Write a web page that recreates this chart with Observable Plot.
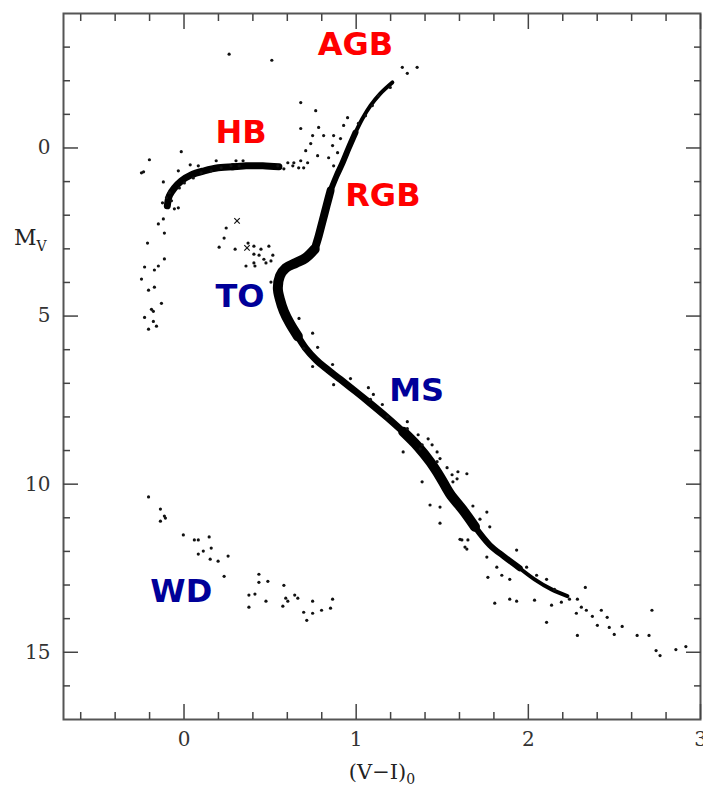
<!DOCTYPE html>
<html><head><meta charset="utf-8">
<script src="https://cdn.jsdelivr.net/npm/d3@7"></script>
<script src="https://cdn.jsdelivr.net/npm/@observablehq/plot@0.6"></script>
<style>body{margin:0;background:#fff} svg{display:block}</style>
</head><body><div id="chart"></div>
<script>
// ---- axis ticks ----
const xMajor = [0, 1, 2, 3];
const xMinor = [-0.6, -0.4, -0.2, 0.2, 0.4, 0.6, 0.8, 1.2, 1.4, 1.6, 1.8, 2.2, 2.4, 2.6, 2.8];
const yMajor = [0, 5, 10, 15];
const yMinor = [-3, -2, -1, 1, 2, 3, 4, 6, 7, 8, 9, 11, 12, 13, 14, 16];

// ---- fiducial (dense) sequences, [V-I, Mv] ----
const rgbUpper = [[1.210,-1.95],[1.140,-1.62],[1.083,-1.26],[1.036,-0.87],[0.996,-0.46]];
const rgbMid = [[0.996,-0.46],[0.955,0.02],[0.921,0.44],[0.886,0.83],[0.851,1.27]];
const rgbLower = [[0.851,1.27],[0.828,1.72],[0.805,2.17],[0.782,2.62],[0.759,3.01]];
const subgiantTO = [[0.759,3.01],[0.707,3.27],[0.649,3.42],[0.591,3.57],[0.557,3.81],[0.545,4.17],[0.557,4.50],[0.580,4.86],[0.614,5.21],[0.661,5.60]];
const msUpper = [[0.661,5.60],[0.707,5.96],[0.765,6.29],[0.834,6.59],[0.909,6.89],[0.996,7.24],[1.083,7.60],[1.181,8.02],[1.273,8.44]];
const msLower = [[1.273,8.44],[1.360,8.89],[1.429,9.33],[1.487,9.78],[1.545,10.29],[1.620,10.77],[1.690,11.27]];
const msBottom = [[1.690,11.27],[1.776,11.81],[1.863,12.17],[1.950,12.50]];
const msTail = [[1.950,12.50],[2.036,12.83],[2.135,13.13],[2.227,13.33]];
const hbBlue = [[-0.097,1.72],[-0.085,1.42],[-0.056,1.19],[-0.016,0.98],[0.042,0.80],[0.117,0.68],[0.198,0.59],[0.285,0.56]];
const hbRed = [[0.285,0.56],[0.360,0.53],[0.458,0.53],[0.551,0.56]];

// ---- individual stars ----
const brightGiants = [[0.262,-2.79],[0.510,-2.61],[1.354,-2.40],[1.268,-2.40],[1.297,-2.22],
  [1.198,-1.80],[1.129,-1.56],[1.094,-1.26],[1.054,-0.96],[1.013,-0.73]];
const agbStars = [[0.678,-1.35],[0.765,-1.11],[0.678,-0.58],[0.782,-0.61],[0.747,-0.37],[0.811,-0.37],
  [0.869,-0.37],[0.736,-0.13],[0.863,-0.07],[0.707,0.08],[0.776,0.23],[0.840,0.29],[0.638,0.44],
  [0.678,0.38],[0.718,0.44],[0.666,0.59],[0.950,-0.90],[0.927,-0.67],[0.909,-0.28],[0.892,0.14],
  [0.869,0.53],[0.695,0.59],[0.632,0.53],[0.603,0.44]];
const hbStars = [[-0.201,0.35],[-0.235,0.71],[-0.016,0.11],[-0.120,1.01],[0.036,0.50],[0.187,0.38],
  [0.302,0.38],[0.343,0.38],[-0.120,2.11],[-0.149,2.26],[0.245,2.38],
  [-0.073,1.57],[-0.085,1.33],[-0.033,1.78],[-0.027,1.19],[0.002,1.04],[0.054,0.89],[0.100,0.74],
  [0.158,0.68],[0.216,0.59],[0.273,0.53],[0.320,0.53],[0.545,0.53],[0.580,0.62],[-0.033,0.68],
  [0.083,0.53],[-0.056,1.81],[-0.102,1.48]];
const bhbStars = [[-0.247,0.74],[-0.125,1.63],[-0.114,2.53],[-0.212,2.83],[-0.114,3.30],[-0.229,3.54],
  [-0.149,3.51],[-0.172,3.63],[-0.247,3.90],[-0.206,4.23],[-0.172,4.14],[-0.131,4.62],[-0.189,4.80],
  [-0.178,4.86],[-0.229,5.04],[-0.178,5.16],[-0.160,5.30],[-0.206,5.39]];
const blueStragglers = [[0.233,2.68],[0.204,2.95],[0.297,3.01],[0.372,2.83],[0.406,2.92],[0.447,3.01],
  [0.493,2.92],[0.406,3.16],[0.436,3.19],[0.464,3.31],[0.516,3.19],[0.476,3.42],[0.505,3.36],
  [0.406,3.42],[0.360,3.51],[0.412,3.51],[0.505,3.99]];
const crossStars = [[0.308,2.17],[0.366,2.97]];
const msStars = [[0.668,5.07],[0.747,5.51],[0.695,5.96],[0.776,5.93],[0.747,6.50],[0.863,6.44],[0.967,6.86],
  [0.869,7.04],[1.071,7.13],[1.100,7.33],[1.083,7.48],[1.152,7.63],[1.181,7.99],[1.297,8.14],[1.297,8.35],
  [1.360,8.53],[1.418,8.65],[1.383,8.83],[1.441,8.83],[1.470,9.04],[1.273,9.04],[1.487,9.24],[1.528,9.51],
  [1.591,9.63],[1.643,9.69],[1.557,9.72],[1.383,9.93],[1.562,9.93],[1.372,8.95],[1.470,9.33],[1.586,9.84],
  [1.429,10.62],[1.487,10.68],[1.678,10.65],[1.759,10.83],[1.487,11.16],[1.719,11.04],[1.776,11.27],
  [1.614,11.66],[1.649,11.66],[1.643,11.93],[1.603,11.64],[1.632,11.87],[1.932,11.96],[1.759,12.17],
  [1.817,12.47],[1.765,12.77],[1.990,12.47],[1.846,12.71],[1.892,12.83],[2.048,12.71],[2.106,12.83],
  [2.152,13.13],[2.331,13.07],[1.805,13.54],[1.892,13.42],[1.932,13.48],[2.036,13.45],[2.135,13.60],
  [2.192,13.51],[2.239,13.42],[2.285,13.42],[2.308,13.66],[2.279,13.84],[2.337,13.75],[2.372,13.93],
  [2.424,13.75],[2.458,13.96],[2.401,14.20],[2.470,14.26],[2.106,14.11],[2.285,14.50],[2.545,14.23],
  [2.499,14.47],[2.632,14.50],[2.701,14.50],[2.718,13.75],[2.742,14.95],[2.765,15.10],[2.857,14.92],
  [2.915,14.83]];
const wdStars = [[-0.206,10.38],[-0.137,10.74],[-0.114,10.95],[-0.108,11.01],[-0.137,11.10],[-0.004,11.51],
  [0.060,11.66],[0.083,11.66],[0.146,11.57],[0.158,11.90],[0.112,11.99],[0.083,12.08],[0.152,12.23],
  [0.198,12.29],[0.256,12.14],[0.233,12.74],[0.435,12.68],[0.435,12.92],[0.487,12.89],[0.377,13.30],
  [0.412,13.27],[0.377,13.66],[0.476,13.48],[0.580,13.01],[0.591,13.39],[0.603,13.48],[0.643,13.30],
  [0.661,13.39],[0.574,13.63],[0.747,13.48],[0.695,13.81],[0.747,13.84],[0.799,13.75],[0.713,14.05],
  [0.851,13.69],[0.863,13.42]];

// ---- phase labels ----
const labelNames = ["AGB", "HB", "RGB", "TO", "MS", "WD"];
const labelX = [0.996, 0.331, 1.155, 0.325, 1.351, -0.016];
const labelY = [-3.08, -0.44, 1.42, 4.44, 7.23, 13.21];
const evolvedPhases = new Set(["AGB", "HB", "RGB"]);

const pts = a => a.map(([x, y]) => ({x, y}));
const labels = labelNames.map((t, i) => ({text: t, x: labelX[i], y: labelY[i]}));
const allStars = [brightGiants, agbStars, hbStars, bhbStars, blueStragglers, msStars, wdStars].flatMap(pts);

const seq = (arr, w) => Plot.line(pts(arr), {x: "x", y: "y", stroke: "#000", strokeWidth: w,
  strokeLinecap: "round", strokeLinejoin: "round", curve: "catmull-rom"});

const tickStyle = {stroke: "#444", strokeWidth: 1.5, tickFormat: () => "", label: null};
const font = "DejaVu Serif";

const plot = Plot.plot({
  width: 703, height: 789,
  marginLeft: 63, marginRight: 3, marginTop: 13, marginBottom: 70,
  style: {fontFamily: font, background: "#fff", overflow: "visible"},
  x: {domain: [-0.7, 3.0]},
  y: {domain: [-4, 17], reverse: true},
  marks: [
    seq(rgbUpper, 4), seq(rgbMid, 6), seq(rgbLower, 8), seq(subgiantTO, 10), seq(msUpper, 7),
    seq(msLower, 10), seq(msBottom, 6), seq(msTail, 4), seq(hbBlue, 7), seq(hbRed, 7),
    Plot.dot(allStars, {x: "x", y: "y", r: 1.6, fill: "#111", stroke: null}),
    Plot.dot(pts(crossStars), {x: "x", y: "y", r: 2.6, symbol: "times", stroke: "#111", strokeWidth: 1.2}),
    Plot.text(labels, {x: "x", y: "y", text: "text", fontSize: 32, fontWeight: "bold",
      fontFamily: "DejaVu Sans", fill: d => evolvedPhases.has(d.text) ? "#ff0000" : "#000099"}),
    Plot.frame({stroke: "#555", strokeWidth: 2}),
    // inward major/minor ticks on all four sides
    Plot.axisX(xMajor, {anchor: "bottom", tickSize: 15, dy: -15, ...tickStyle}),
    Plot.axisX(xMinor, {anchor: "bottom", tickSize: 7, dy: -7, ...tickStyle}),
    Plot.axisX(xMajor, {anchor: "top", tickSize: 15, dy: 15, ...tickStyle}),
    Plot.axisX(xMinor, {anchor: "top", tickSize: 7, dy: 7, ...tickStyle}),
    Plot.axisY(yMajor, {anchor: "left", tickSize: 15, dx: 15, ...tickStyle}),
    Plot.axisY(yMinor, {anchor: "left", tickSize: 7, dx: 7, ...tickStyle}),
    Plot.axisY(yMajor, {anchor: "right", tickSize: 15, dx: -15, ...tickStyle}),
    Plot.axisY(yMinor, {anchor: "right", tickSize: 7, dx: -7, ...tickStyle}),
    // tick labels
    Plot.axisX(xMajor, {anchor: "bottom", tickSize: 0, tickPadding: 12, fontSize: 20, fontFamily: font,
      fill: "#333", label: null, tickFormat: d => String(d)}),
    Plot.axisY(yMajor, {anchor: "left", tickSize: 0, tickPadding: 13, fontSize: 20, fontFamily: font,
      fill: "#333", label: null, tickFormat: d => String(d)})
  ]
});

document.getElementById("chart").appendChild(plot);

// axis titles with subscripts
const svg = d3.select(plot);
const yt = svg.append("text").attr("x", 14).attr("y", 245).attr("text-anchor", "start")
  .attr("font-family", font).attr("font-size", 22).attr("fill", "#222");
yt.append("tspan").text("M");
yt.append("tspan").attr("font-size", 14).attr("dy", 6).text("V");
const xt = svg.append("text").attr("x", 382).attr("y", 779).attr("text-anchor", "middle")
  .attr("font-family", font).attr("font-size", 21).attr("fill", "#222");
xt.append("tspan").text("(V\u2212I)");
xt.append("tspan").attr("font-size", 14).attr("dy", 5).text("0");
</script>
</body></html>
